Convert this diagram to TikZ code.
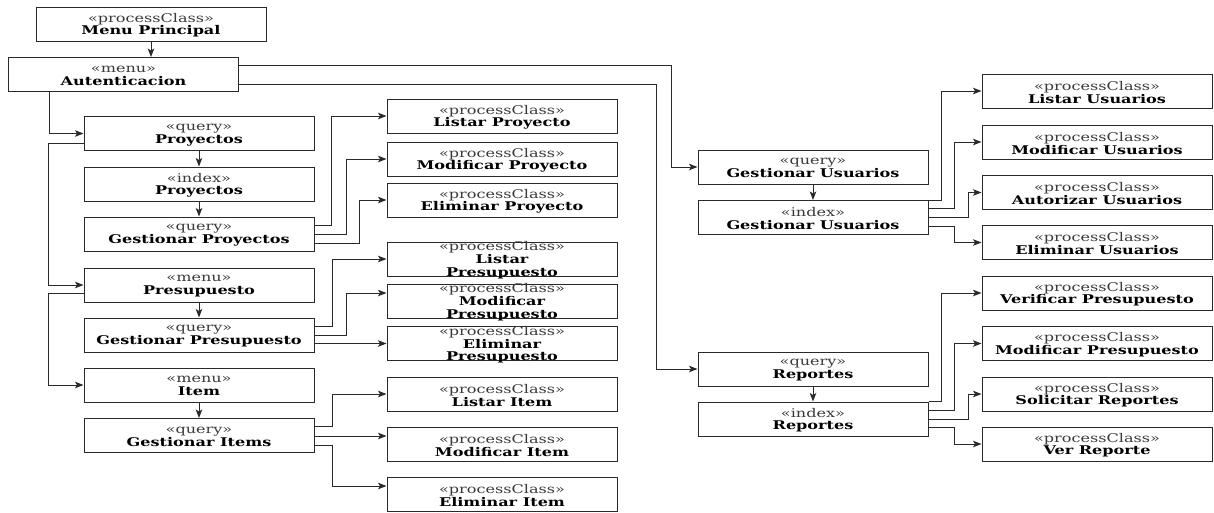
\documentclass[tikz,border=0pt]{standalone}
\usepackage{fontspec}
\setmainfont{DejaVu Serif}[FakeStretch=1.34]
\usetikzlibrary{arrows.meta,calc}

\definecolor{linec}{HTML}{2A2A2A}
\definecolor{stereo}{HTML}{3A3A3A}

% A class box: stereotype on the first line, bold name below,
% vertically centred in a fixed 230 x 34 frame (long names may spill over).
\newcommand{\umltext}[2]{\vbox to 34pt{\hsize=230pt\parindent=0pt\parskip=0pt
  \baselineskip=12.8pt\lineskiplimit=-100pt\vss\kern2.5pt\centering
  \leavevmode{\color{stereo}#1}\par
  \leavevmode{\bfseries #2}\par\vss}}

\tikzset{
  umlbox/.style={draw=linec, line width=1pt, inner sep=0pt, fill=white,
    font=\fontsize{12}{12.8}\selectfont},
  flow/.style={draw=linec, line width=1pt,
    -{Stealth[length=8.5pt,width=6.5pt,inset=2pt]}}
}

\begin{document}
\begin{tikzpicture}[x=1pt,y=-1pt]
\useasboundingbox[fill=white] (0,0) rectangle (1214,512);

% ---- entry points
\node[umlbox] (mp)  at (151,24)    {\umltext{«processClass»}{Menu Principal}};
\node[umlbox] (aut) at (123.5,74.5){\umltext{«menu»}{Autenticacion}};

% ---- left column
\node[umlbox] (pq)  at (199,133.5) {\umltext{«query»}{Proyectos}};
\node[umlbox] (pi)  at (199,184)   {\umltext{«index»}{Proyectos}};
\node[umlbox] (gp)  at (199,234)   {\umltext{«query»}{Gestionar Proyectos}};
\node[umlbox] (pm)  at (199,285)   {\umltext{«menu»}{Presupuesto}};
\node[umlbox] (gpr) at (199,335)   {\umltext{«query»}{Gestionar Presupuesto}};
\node[umlbox] (im)  at (199,385)   {\umltext{«menu»}{Item}};
\node[umlbox] (gi)  at (199,435.5) {\umltext{«query»}{Gestionar Items}};

% ---- processes of the left column
\node[umlbox] (lp)  at (502,116)   {\umltext{«processClass»}{Listar Proyecto}};
\node[umlbox] (mpy) at (502,159)   {\umltext{«processClass»}{Modificar Proyecto}};
\node[umlbox] (ep)  at (502,200)   {\umltext{«processClass»}{Eliminar Proyecto}};
\node[umlbox] (lpr) at (502,259)   {\umltext{«processClass»}{Listar\\Presupuesto}};
\node[umlbox] (mpr) at (502,301)   {\umltext{«processClass»}{Modificar\\Presupuesto}};
\node[umlbox] (epr) at (502,343.5) {\umltext{«processClass»}{Eliminar\\Presupuesto}};
\node[umlbox] (li)  at (502,394)   {\umltext{«processClass»}{Listar Item}};
\node[umlbox] (mi)  at (502,444)   {\umltext{«processClass»}{Modificar Item}};
\node[umlbox] (ei)  at (502,494.5) {\umltext{«processClass»}{Eliminar Item}};

% ---- users
\node[umlbox] (gu)  at (813,167)   {\umltext{«query»}{Gestionar Usuarios}};
\node[umlbox] (gui) at (813,217.5) {\umltext{«index»}{Gestionar Usuarios}};
\node[umlbox] (lu)  at (1097,91)   {\umltext{«processClass»}{Listar Usuarios}};
\node[umlbox] (mu)  at (1097,142)  {\umltext{«processClass»}{Modificar Usuarios}};
\node[umlbox] (au)  at (1097,192.5){\umltext{«processClass»}{Autorizar Usuarios}};
\node[umlbox] (eu)  at (1097,242.5){\umltext{«processClass»}{Eliminar Usuarios}};

% ---- reports
\node[umlbox] (rq)  at (813,369)   {\umltext{«query»}{Reportes}};
\node[umlbox] (ri)  at (813,419)   {\umltext{«index»}{Reportes}};
\node[umlbox] (vp)  at (1097,293)  {\umltext{«processClass»}{Verificar Presupuesto}};
\node[umlbox] (mp2) at (1097,343.5){\umltext{«processClass»}{Modificar Presupuesto}};
\node[umlbox] (sr)  at (1097,394)  {\umltext{«processClass»}{Solicitar Reportes}};
\node[umlbox] (vr)  at (1097,444)  {\umltext{«processClass»}{Ver Reporte}};

% ---- connectors: entry
\draw[flow] (mp.south) -- (mp.south |- aut.north);
\draw[flow] ($(aut.north east)+(0,8)$) -| ($(gu.west)+(-26,0)$) -- (gu.west);
\draw[flow] ($(aut.south east)+(0,-8)$) -| ($(rq.west)+(-41,0)$) -- (rq.west);
\draw[flow] ($(aut.south west)+(41,0)$) |- (pq.west);

% ---- connectors: left column chain
\draw[flow] ($(pq.south west)+(0,-8)$) -| ($(pm.west)+(-35,0)$) -- (pm.west);
\draw[flow] ($(pm.south west)+(0,-9)$) -| ($(im.west)+(-35,0)$) -- (im.west);
\draw[flow] (pq.south) -- (pi.north);
\draw[flow] (pi.south) -- (gp.north);
\draw[flow] (pm.south) -- (gpr.north);
\draw[flow] (im.south) -- (gi.north);

% ---- connectors: projects
\draw[flow] ($(gp.north east)+(0,9)$) -| ($(lp.west)+(-55,0)$) -- (lp.west);
\draw[flow] (gp.east) -| ($(mpy.west)+(-40,0)$) -- (mpy.west);
\draw[flow] ($(gp.south east)+(0,-8)$) -| ($(ep.west)+(-27,0)$) -- (ep.west);

% ---- connectors: budget
\draw[flow] ($(gpr.north east)+(0,9)$) -| ($(lpr.west)+(-54,0)$) -- (lpr.west);
\draw[flow] (gpr.east) -| ($(mpr.west)+(-40,-8)$) -- ($(mpr.west)+(0,-8)$);
\coordinate (gprx) at ($(gpr.south east)+(0,-9)$);
\draw[flow] (gprx) -- (gprx -| epr.west);

% ---- connectors: items
\draw[flow] ($(gi.north east)+(0,8)$) -| ($(li.west)+(-54,0)$) -- (li.west);
\coordinate (gix) at ($(gi.east)+(0,0.5)$);
\draw[flow] (gix) -- (gix -| mi.west);
\draw[flow] ($(gi.south east)+(0,-8)$) -| ($(ei.west)+(-54,-8.5)$) -- ($(ei.west)+(0,-8.5)$);

% ---- connectors: users
\draw[flow] (gu.south) -- (gui.north);
\draw[flow] (gui.north east) -| ($(lu.west)+(-40,0)$) -- (lu.west);
\draw[flow] ($(gui.north east)+(0,8)$) -| ($(mu.west)+(-27,0)$) -- (mu.west);
\draw[flow] (gui.east) -| ($(au.west)+(-13,0)$) -- (au.west);
\draw[flow] ($(gui.south east)+(0,-9)$) -| ($(eu.west)+(-27,0)$) -- (eu.west);

% ---- connectors: reports
\draw[flow] (rq.south) -- (ri.north);
\draw[flow] (ri.north east) -| ($(vp.west)+(-40,0)$) -- (vp.west);
\draw[flow] ($(ri.north east)+(0,9)$) -| ($(mp2.west)+(-27,0)$) -- (mp2.west);
\draw[flow] (ri.east) -| ($(sr.west)+(-13,0)$) -- (sr.west);
\draw[flow] ($(ri.south east)+(0,-9)$) -| ($(vr.west)+(-27,0)$) -- (vr.west);
\end{tikzpicture}
\end{document}
